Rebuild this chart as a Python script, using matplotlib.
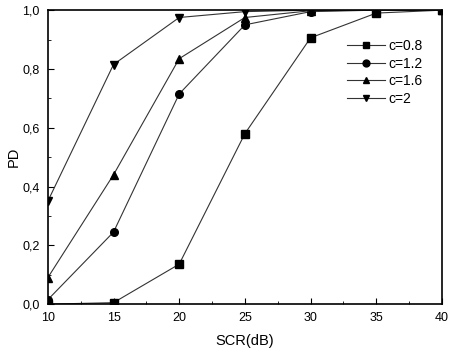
import matplotlib
matplotlib.use('Agg')
import matplotlib.pyplot as plt
from matplotlib.ticker import MultipleLocator, FuncFormatter

plt.rcParams['font.family'] = ['Liberation Sans', 'DejaVu Sans']

# data
scr = [10, 15, 20, 25, 30, 35, 40]
pd_c08 = [0.0, 0.005, 0.136, 0.58, 0.906, 0.99, 1.0]
pd_c12 = [0.015, 0.245, 0.715, 0.95, 0.995, 1.0, 1.0]
pd_c16 = [0.09, 0.44, 0.835, 0.975, 0.998, 1.0, 1.0]
pd_c20 = [0.35, 0.815, 0.975, 0.995, 1.0, 1.0, 1.0]
labels = ['c=0.8', 'c=1.2', 'c=1.6', 'c=2']
markers = ['s', 'o', '^', 'v']

fig = plt.figure(figsize=(4.51, 3.5), dpi=100)
ax = fig.add_axes([0.106, 0.131, 0.874, 0.84])

for y, lab, m in zip([pd_c08, pd_c12, pd_c16, pd_c20], labels, markers):
    ax.plot(scr, y, color='#333333', lw=0.8, marker=m, ms=5.5,
            mfc='black', mec='black', label=lab)

ax.set_xlim(10, 40)
ax.set_ylim(0, 1.0)
ax.xaxis.set_major_locator(MultipleLocator(5))
ax.xaxis.set_minor_locator(MultipleLocator(2.5))
ax.yaxis.set_major_locator(MultipleLocator(0.2))
ax.yaxis.set_minor_locator(MultipleLocator(0.1))
ax.yaxis.set_major_formatter(FuncFormatter(lambda v, p: ('%.1f' % v).replace('.', ',')))
ax.tick_params(which='both', direction='in', labelsize=9, top=False, right=False)
ax.tick_params(which='major', length=4, pad=6)
ax.tick_params(which='minor', length=2.5)
for s in ax.spines.values():
    s.set_linewidth(1.2)

ax.set_xlabel('SCR(dB)', fontsize=10.5, labelpad=7)
ax.set_ylabel('PD', fontsize=10.5, labelpad=1)

ax.legend(loc='upper left', bbox_to_anchor=(0.745, 0.92), frameon=False,
          fontsize=10, handlelength=2.7, labelspacing=0.25, handletextpad=0.3,
          borderaxespad=0, markerscale=0.9)

fig.savefig('out.png', dpi=100)
